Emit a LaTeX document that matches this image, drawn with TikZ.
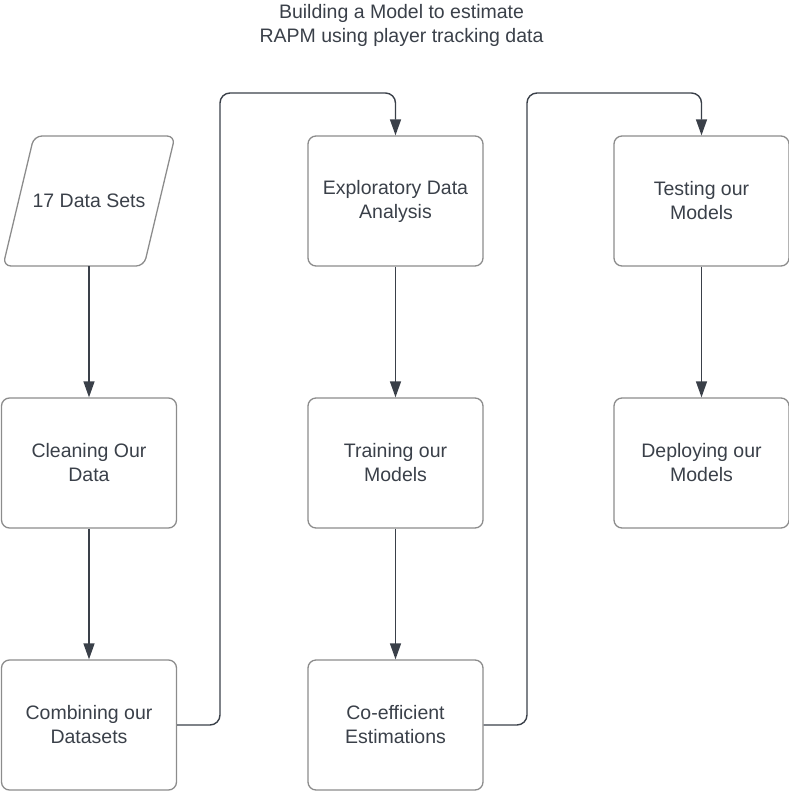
\documentclass[tikz,border=0pt]{standalone}
\usepackage{fontspec}
\setmainfont{Liberation Sans}
\usetikzlibrary{positioning}
\usetikzlibrary{arrows.meta}
\definecolor{boxline}{HTML}{8C8C8C}
\definecolor{inkgray}{HTML}{3A4049}
\tikzset{
        every node/.style={align=center,text=inkgray,font=\fontsize{19.5}{24}\selectfont},
        stepbox/.style={draw=boxline,line width=1.3pt,rounded corners=8pt,
                minimum width=175pt,minimum height=130pt,inner sep=0pt},
        databox/.style={minimum width=142pt,minimum height=130pt,inner sep=0pt},
        link/.style={draw=inkgray,line width=1.4pt,-{Triangle[length=16pt,width=11pt]}},
        }

\begin{document}
\begin{tikzpicture}[x=1pt,y=-1pt]

			% page frame..................
			\useasboundingbox (0,0) rectangle (789,793);

			% title.......................
			\node (title) at (401.5,25) {Building a Model to estimate\\RAPM using player tracking data};

			% first column................
			\draw [draw=boxline,line width=1.3pt,rounded corners=8pt]
				(3,266) -- (34,136) -- (175,136) -- (144,266) -- cycle;
			\node [databox] (sets) at (89,201) {17 Data Sets};
			\node [stepbox] (clean) at (89,463) {Cleaning Our\\Data};
			\node [stepbox] (combine) at (89,725) {Combining our\\Datasets};

			% second column...............
			\node [stepbox] (explore) at (395.5,201) {Exploratory Data\\Analysis};
			\node [stepbox] (train) at (395.5,463) {Training our\\Models};
			\node [stepbox] (coef) at (395.5,725) {Co-efficient\\Estimations};

			% third column................
			\node [stepbox] (test) at (701.5,201) {Testing our\\Models};
			\node [stepbox] (deploy) at (701.5,463) {Deploying our\\Models};

			% turning points..............
			\coordinate (turnA) at (220,93);
			\coordinate (turnB) at (527,93);

			% arrows down.................
			\draw [link] (sets) -- (clean);
			\draw [link] (clean) -- (combine);
			\draw [link] (explore) -- (train);
			\draw [link] (train) -- (coef);
			\draw [link] (test) -- (deploy);

			% arrows over the top.........
			\draw [link, rounded corners=10pt] (combine.east) -| (turnA) -| (explore.north);
			\draw [link, rounded corners=10pt] (coef.east) -| (turnB) -| (test.north);
		\end{tikzpicture}
\end{document}
